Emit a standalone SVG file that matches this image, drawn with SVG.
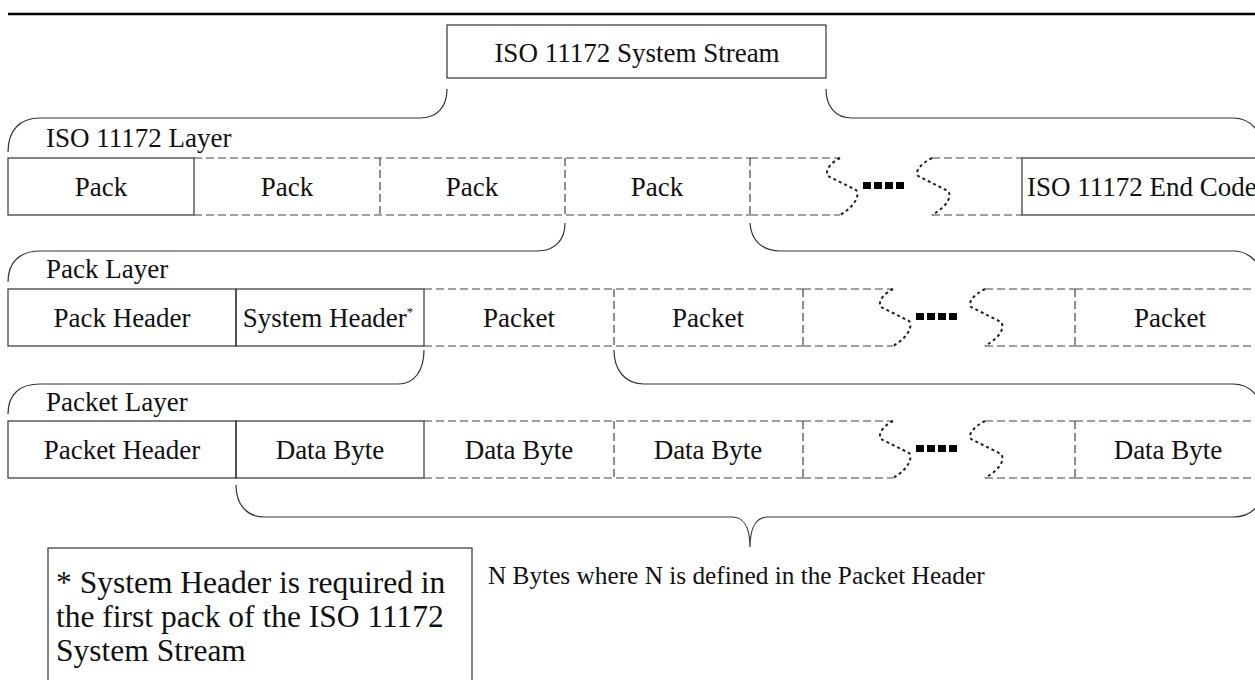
<svg xmlns="http://www.w3.org/2000/svg" xmlns:xlink="http://www.w3.org/1999/xlink" width="1255" height="680" viewBox="0 0 1255 680">
<style>
text{font-family:"Liberation Serif","Times New Roman",serif;fill:#111}
.t{font-size:27px;text-anchor:middle}
.l{font-size:27px}
.f{font-size:31.5px}
.solid{fill:none;stroke:#333;stroke-width:1.2}
.dash{fill:none;stroke:#444;stroke-width:1.2;stroke-dasharray:8,4}
.sq{fill:none;stroke:#222;stroke-width:2;stroke-dasharray:3,3}
.brace{fill:none;stroke:#333;stroke-width:1.2}
.dot{fill:#000}
</style>
<defs>
<g id="gap">
<path class="dash" d="M0,0 H90 M0,57 H90 M182,0 H272 M182,57 H272"/>
<path class="sq" d="M90,0 C82,4 74,12 78,18 L106,32 C110,36 106,48 90,57"/>
<path class="sq" d="M182,0 C174,4 164,12 168,18 L198,33 C202,38 198,48 182,57"/>
<rect class="dot" x="113" y="24" width="8" height="7"/>
<rect class="dot" x="124" y="24" width="8" height="7"/>
<rect class="dot" x="135" y="24" width="8" height="7"/>
<rect class="dot" x="146" y="24" width="8" height="7"/>
</g>
</defs>
<rect width="1255" height="680" fill="#fff"/>
<line x1="8" y1="14" x2="1255" y2="14" stroke="#000" stroke-width="2.4"/>

<g id="system-stream">
<rect class="solid" x="447" y="25" width="379" height="53"/>
<text class="t" x="637" y="62">ISO 11172 System Stream</text>
</g>

<g id="iso-layer">
<text class="l" x="46" y="147">ISO 11172 Layer</text>
<rect class="solid" x="8" y="158" width="186" height="57"/>
<text class="t" x="101" y="196">Pack</text>
<path class="dash" d="M194,158 H750 M194,215 H750 M380,158 V215 M565,158 V215 M750,158 V215"/>
<text class="t" x="287" y="196">Pack</text>
<text class="t" x="472" y="196">Pack</text>
<text class="t" x="657" y="196">Pack</text>
<use xlink:href="#gap" x="750" y="158"/>
<rect class="solid" x="1022" y="158" width="300" height="57"/>
<text class="l" x="1027" y="196">ISO 11172 End Code</text>
</g>

<g id="pack-layer">
<text class="l" x="46" y="278">Pack Layer</text>
<rect class="solid" x="8" y="289" width="228" height="57"/>
<rect class="solid" x="236" y="289" width="188" height="57"/>
<text class="t" x="122" y="327">Pack Header</text>
<text class="t" x="328" y="327">System Header<tspan font-size="13" dy="-11">*</tspan></text>
<path class="dash" d="M424,289 H803 M424,346 H803 M614,289 V346 M803,289 V346 M1075,289 V346 M1075,289 H1255 M1075,346 H1255"/>
<text class="t" x="519" y="327">Packet</text>
<text class="t" x="708" y="327">Packet</text>
<use xlink:href="#gap" x="803" y="289"/>
<text class="t" x="1170" y="327">Packet</text>
</g>

<g id="packet-layer">
<text class="l" x="46" y="411">Packet Layer</text>
<rect class="solid" x="8" y="421" width="228" height="57"/>
<rect class="solid" x="236" y="421" width="188" height="57"/>
<text class="t" x="122" y="459">Packet Header</text>
<text class="t" x="330" y="459">Data Byte</text>
<path class="dash" d="M424,421 H803 M424,478 H803 M614,421 V478 M803,421 V478 M1075,421 V478 M1075,421 H1255 M1075,478 H1255"/>
<text class="t" x="519" y="459">Data Byte</text>
<text class="t" x="708" y="459">Data Byte</text>
<use xlink:href="#gap" x="803" y="421"/>
<text class="t" x="1168" y="459">Data Byte</text>
</g>

<g id="connectors">
<path class="brace" d="M8,152 C8,130 20,118 40,118 L420,118 C438,118 447,106 447,89"/>
<path class="brace" d="M826,89 C826,106 835,118 852,118 L1233,118 C1245,118 1253,124 1258,132"/>
<path class="brace" d="M8,282 C8,262 20,251 40,251 L537,251 C555,251 565,240 565,223"/>
<path class="brace" d="M750,223 C751,240 762,251 780,251 L1233,251 C1245,251 1253,257 1258,265"/>
<path class="brace" d="M8,414 C8,394 20,384 40,384 L398,384 C415,384 424,370 424,350"/>
<path class="brace" d="M614,350 C614,370 625,384 644,384 L1233,384 C1245,384 1253,390 1258,398"/>
<path class="brace" d="M236,485 C236,505 247,517 265,517 L732,517 C742,517 750,525 750,547 C750,525 758,517 768,517 L1233,517 C1245,517 1253,512 1258,505"/>
</g>

<g id="footnote">
<rect class="solid" x="48" y="548" width="424" height="160"/>
<text class="f" x="56" y="593">* System Header is required in</text>
<text class="f" x="56" y="627">the first pack of the ISO 11172</text>
<text class="f" x="56" y="661">System Stream</text>
</g>

<g id="n-bytes">
<text font-size="25.3" x="488" y="584">N Bytes where N is defined in the Packet Header</text>
</g>
</svg>
